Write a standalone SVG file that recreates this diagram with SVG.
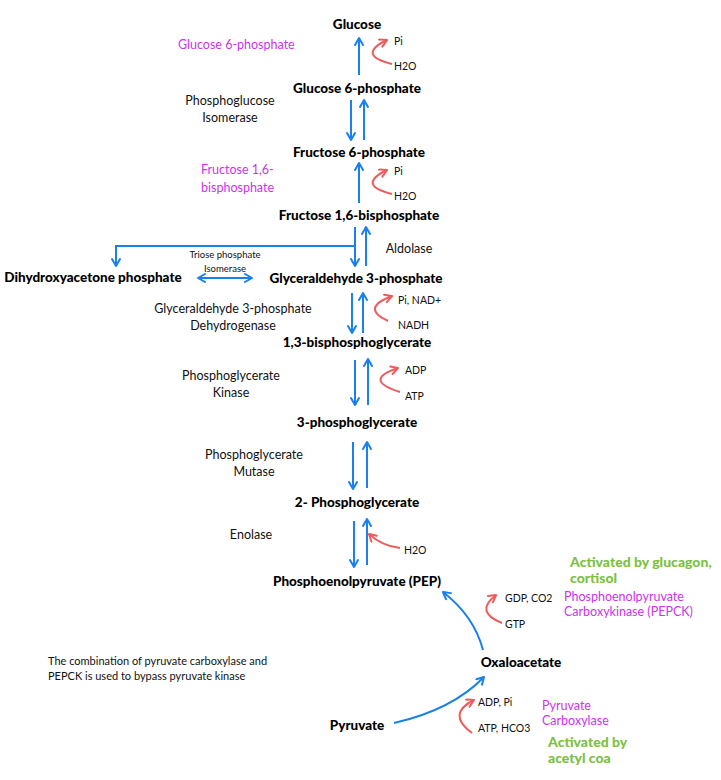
<svg xmlns="http://www.w3.org/2000/svg" width="721" height="780" viewBox="0 0 721 780">
  <style>
    .node { font-family: Lato, "Open Sans", "DejaVu Sans", sans-serif; font-weight: 900; font-size: 13.5px; fill: #000; text-anchor: middle; }
    .enz { font-family: Lato, "Open Sans", sans-serif; font-size: 12.5px; fill: #111; text-anchor: middle; }
    .mol { font-family: Lato, "Open Sans", sans-serif; font-size: 10.5px; fill: #111; }
    .reg { font-family: Lato, "Open Sans", sans-serif; font-size: 12.5px; fill: #cc33ee; }
    .act { font-family: Lato, "Open Sans", sans-serif; font-weight: 900; font-size: 14px; fill: #7cc142; }
    .note { font-family: Lato, "Open Sans", sans-serif; font-size: 11px; fill: #111; }
    .small { font-family: Lato, "Open Sans", sans-serif; font-size: 9.5px; fill: #111; text-anchor: middle; }
    .blue { stroke: #1a80ee; stroke-width: 2; fill: none; }
    .red { stroke: #ef5b5b; stroke-width: 2; fill: none; }
  </style>
  <defs>
    <marker id="hb" viewBox="0 0 10 10" refX="9" refY="5" markerWidth="10" markerHeight="10" markerUnits="userSpaceOnUse" orient="auto-start-reverse">
      <path d="M2,1 L9,5 L2,9" fill="none" stroke="#1a80ee" stroke-width="2" stroke-linecap="round" stroke-linejoin="round"/>
    </marker>
    <marker id="hr" viewBox="0 0 10 10" refX="9" refY="5" markerWidth="10" markerHeight="10" markerUnits="userSpaceOnUse" orient="auto">
      <path d="M2,1 L9,5 L2,9" fill="none" stroke="#ef5b5b" stroke-width="2" stroke-linecap="round" stroke-linejoin="round"/>
    </marker>
  </defs>

  <!-- pathway connectors -->
  <g id="connectors">
    <line class="blue" x1="359" y1="75" x2="359" y2="38" marker-end="url(#hb)"/>
    <line class="blue" x1="351" y1="100" x2="351" y2="140" marker-end="url(#hb)"/>
    <line class="blue" x1="364" y1="140" x2="364" y2="100" marker-end="url(#hb)"/>
    <line class="blue" x1="359" y1="203" x2="359" y2="163" marker-end="url(#hb)"/>
    <line class="blue" x1="355" y1="227" x2="355" y2="266" marker-end="url(#hb)"/>
    <line class="blue" x1="366" y1="266" x2="366" y2="227" marker-end="url(#hb)"/>
    <polyline class="blue" points="355,246 116,246 116,266" marker-end="url(#hb)"/>
    <line class="blue" x1="198" y1="278" x2="252" y2="278" marker-start="url(#hb)" marker-end="url(#hb)"/>
    <line class="blue" x1="352" y1="293" x2="352" y2="333" marker-end="url(#hb)"/>
    <line class="blue" x1="363" y1="333" x2="363" y2="293" marker-end="url(#hb)"/>
    <line class="blue" x1="355" y1="360" x2="355" y2="405" marker-end="url(#hb)"/>
    <line class="blue" x1="368" y1="405" x2="368" y2="359" marker-end="url(#hb)"/>
    <line class="blue" x1="353" y1="442" x2="353" y2="489" marker-end="url(#hb)"/>
    <line class="blue" x1="367" y1="488" x2="367" y2="442" marker-end="url(#hb)"/>
    <line class="blue" x1="354" y1="521" x2="354" y2="567" marker-end="url(#hb)"/>
    <line class="blue" x1="367" y1="565" x2="367" y2="519" marker-end="url(#hb)"/>
    <path class="blue" d="M483,650 Q474,616 443,592" marker-end="url(#hb)"/>
    <path class="blue" d="M394,723 Q452,710 484,677" marker-end="url(#hb)"/>

    <!-- cofactor side arrows -->
    <path class="red" d="M392,64 Q356,55 387,40" marker-end="url(#hr)"/>
    <path class="red" d="M392,194 Q356,185 387,170" marker-end="url(#hr)"/>
    <path class="red" d="M388,321 Q360,308 392,296" marker-end="url(#hr)"/>
    <path class="red" d="M400,392 Q362,380 398,368" marker-end="url(#hr)"/>
    <path class="red" d="M400,548 Q382,546 369,534" marker-end="url(#hr)"/>
    <path class="red" d="M502,623 Q474,612 496,595" marker-end="url(#hr)"/>
    <path class="red" d="M472,733 Q446,714 474,700" marker-end="url(#hr)"/>
  </g>

  <!-- metabolites -->
  <g id="glucose"><text class="node" x="357" y="29">Glucose</text></g>
  <g id="g6p"><text class="node" x="357" y="93">Glucose 6-phosphate</text></g>
  <g id="f6p"><text class="node" x="359" y="157">Fructose 6-phosphate</text></g>
  <g id="f16bp"><text class="node" x="359" y="220">Fructose 1,6-bisphosphate</text></g>
  <g id="dhap"><text class="node" x="93" y="282">Dihydroxyacetone phosphate</text></g>
  <g id="g3p"><text class="node" x="356" y="283">Glyceraldehyde 3-phosphate</text></g>
  <g id="bpg13"><text class="node" x="357" y="347">1,3-bisphosphoglycerate</text></g>
  <g id="pg3"><text class="node" x="357" y="427">3-phosphoglycerate</text></g>
  <g id="pg2"><text class="node" x="357" y="507">2- Phosphoglycerate</text></g>
  <g id="pep"><text class="node" x="357" y="586">Phosphoenolpyruvate (PEP)</text></g>
  <g id="oaa"><text class="node" x="521" y="667">Oxaloacetate</text></g>
  <g id="pyruvate"><text class="node" x="357" y="730">Pyruvate</text></g>

  <!-- enzymes -->
  <g id="enzymes">
    <text class="enz" x="230" y="105">Phosphoglucose</text>
    <text class="enz" x="230" y="122">Isomerase</text>
    <text class="enz" x="409" y="253">Aldolase</text>
    <text class="small" x="225" y="258">Triose phosphate</text>
    <text class="small" x="225" y="272">Isomerase</text>
    <text class="enz" x="233" y="313">Glyceraldehyde 3-phosphate</text>
    <text class="enz" x="233" y="330">Dehydrogenase</text>
    <text class="enz" x="231" y="380">Phosphoglycerate</text>
    <text class="enz" x="231" y="397">Kinase</text>
    <text class="enz" x="254" y="459">Phosphoglycerate</text>
    <text class="enz" x="254" y="476">Mutase</text>
    <text class="enz" x="251" y="539">Enolase</text>
  </g>

  <!-- cofactors -->
  <g id="cofactors">
    <text class="mol" x="394" y="45">Pi</text>
    <text class="mol" x="394" y="70">H2O</text>
    <text class="mol" x="394" y="175">Pi</text>
    <text class="mol" x="394" y="200">H2O</text>
    <text class="mol" x="398" y="304">Pi, NAD+</text>
    <text class="mol" x="398" y="329">NADH</text>
    <text class="mol" x="405" y="374">ADP</text>
    <text class="mol" x="405" y="400">ATP</text>
    <text class="mol" x="404" y="554">H2O</text>
    <text class="mol" x="505" y="602">GDP, CO2</text>
    <text class="mol" x="505" y="628">GTP</text>
    <text class="mol" x="478" y="706">ADP, Pi</text>
    <text class="mol" x="478" y="732">ATP, HCO3</text>
  </g>

  <!-- regulation notes -->
  <g id="regulation">
    <text class="reg" x="178" y="49">Glucose 6-phosphate</text>
    <text class="reg" x="201" y="174">Fructose 1,6-</text>
    <text class="reg" x="201" y="192">bisphosphate</text>
    <text class="reg" x="564" y="601">Phosphoenolpyruvate</text>
    <text class="reg" x="564" y="616">Carboxykinase (PEPCK)</text>
    <text class="reg" x="542" y="710">Pyruvate</text>
    <text class="reg" x="542" y="725">Carboxylase</text>
    <text class="act" x="570" y="567">Activated by glucagon,</text>
    <text class="act" x="570" y="583">cortisol</text>
    <text class="act" x="548" y="747">Activated by</text>
    <text class="act" x="548" y="763">acetyl coa</text>
  </g>

  <g id="note">
    <text class="note" x="48" y="665">The combination of pyruvate carboxylase and</text>
    <text class="note" x="48" y="680">PEPCK is used to bypass pyruvate kinase</text>
  </g>
</svg>
